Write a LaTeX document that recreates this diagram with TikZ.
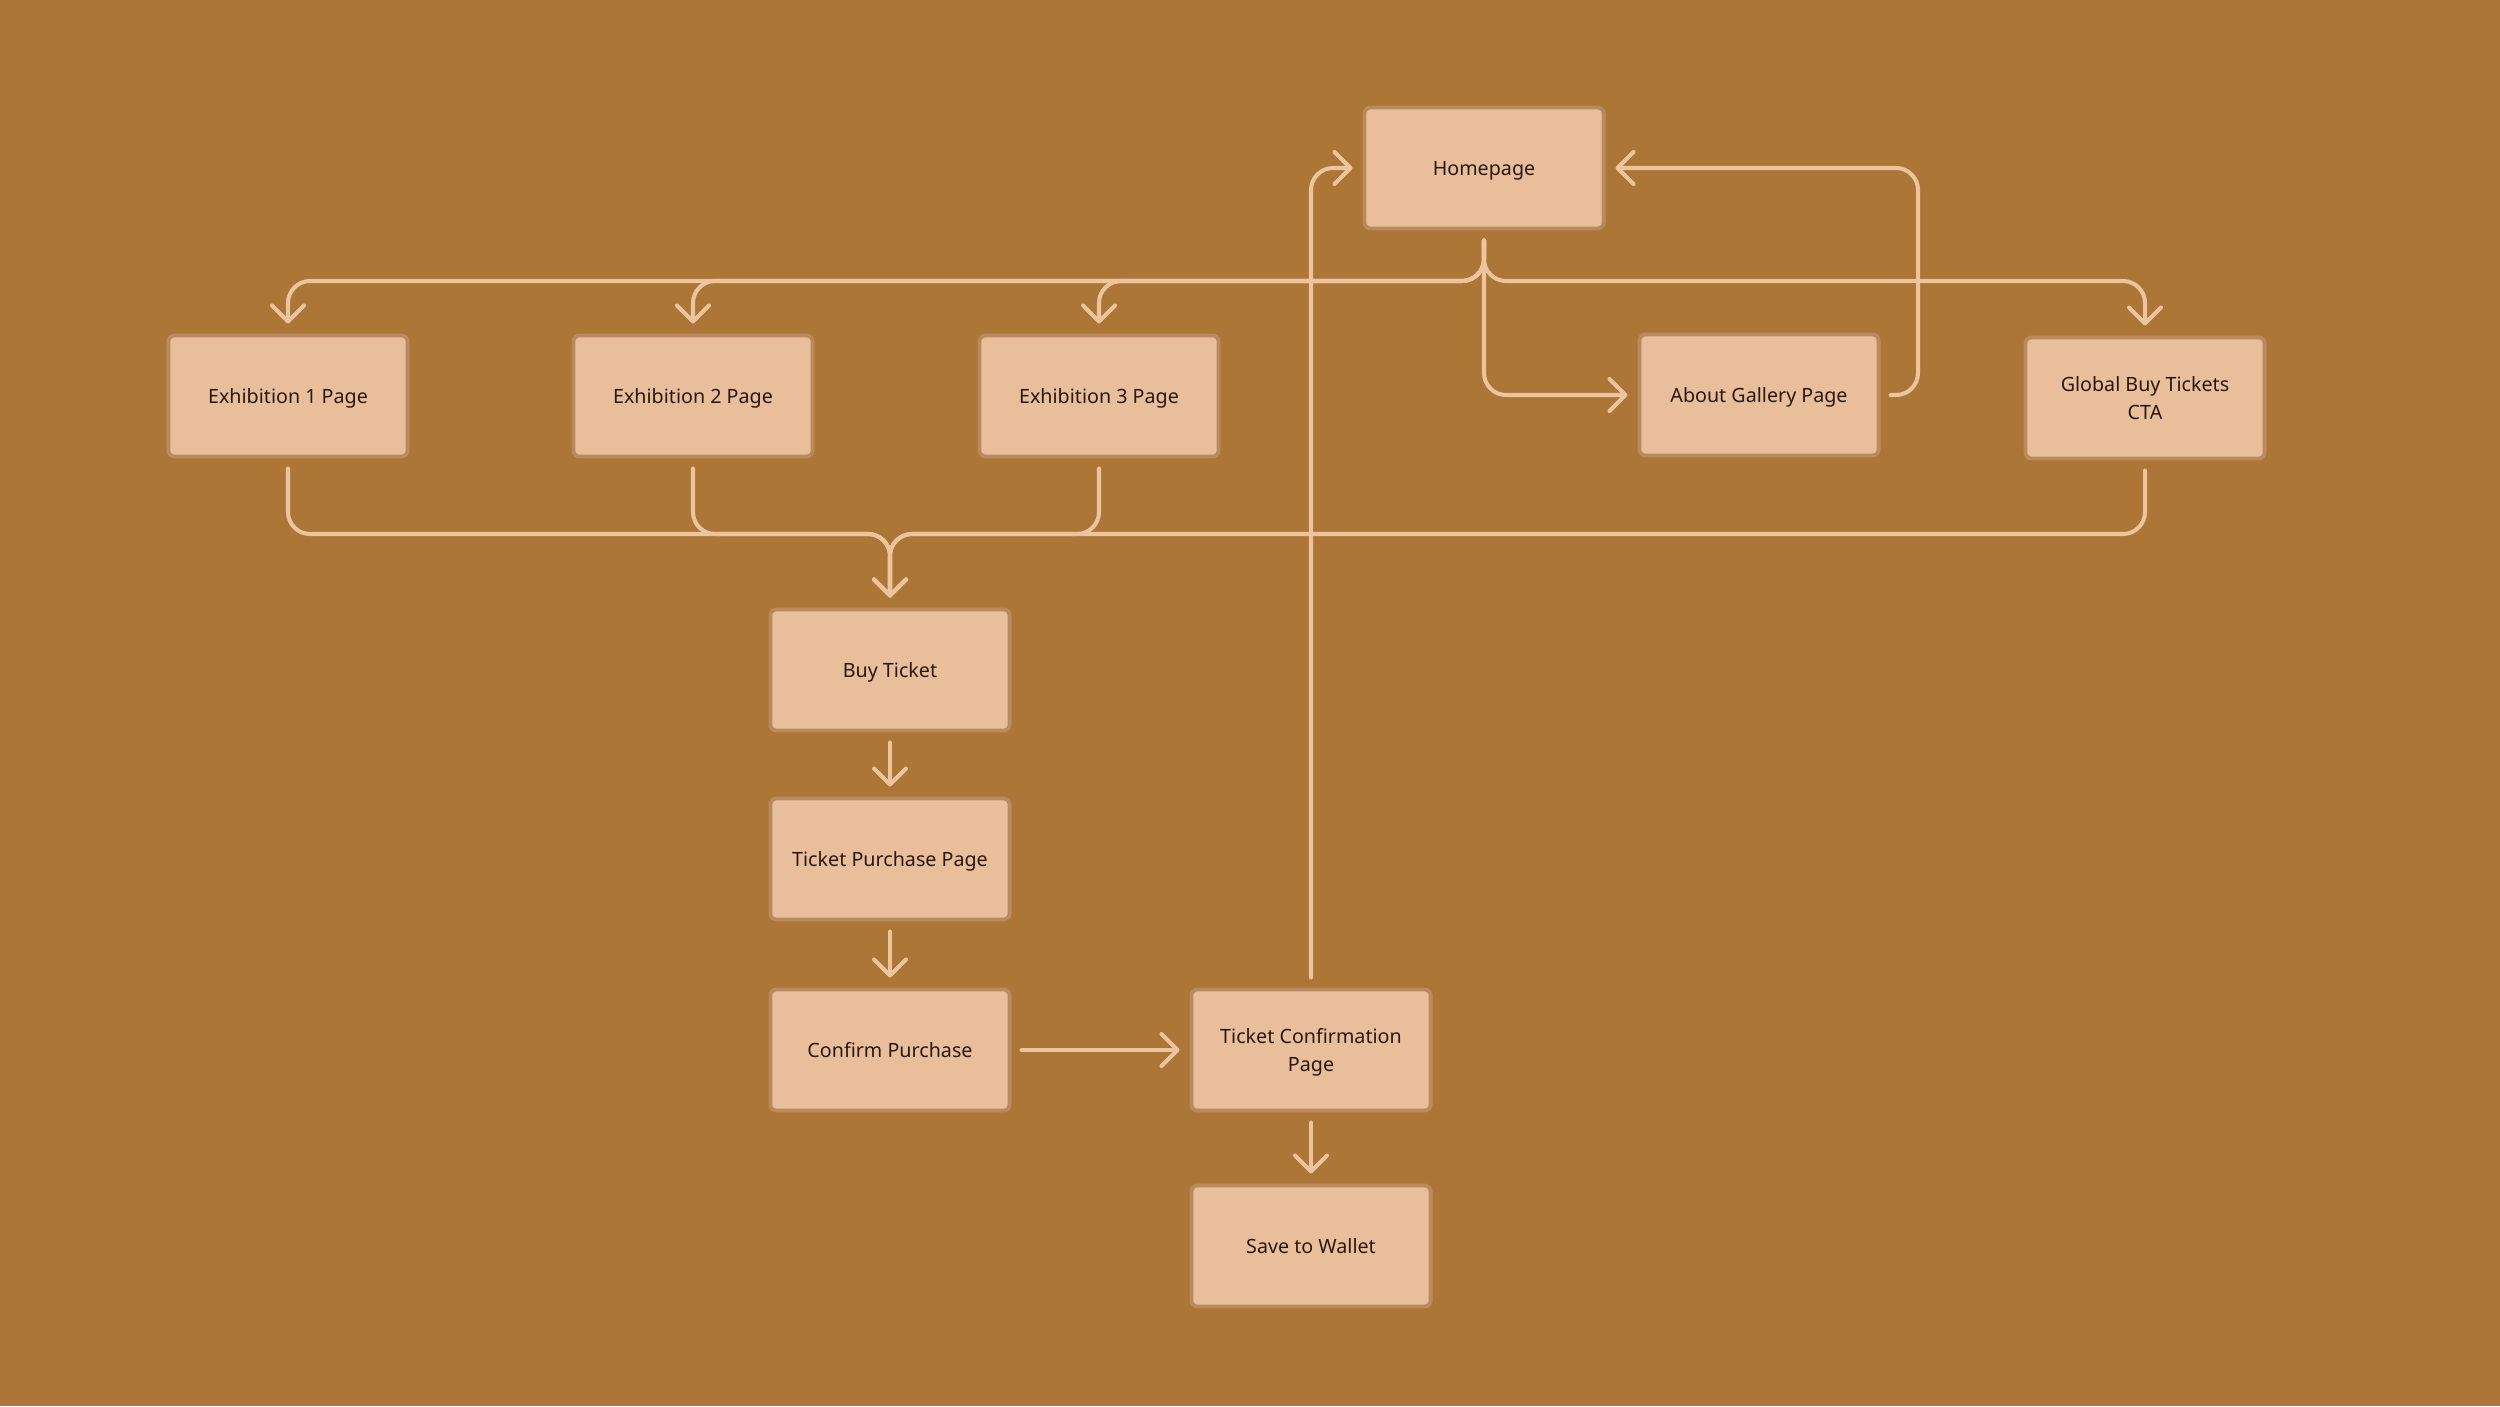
\documentclass[tikz,border=0pt]{standalone}
\usepackage{fontspec}
\setmainfont{Noto Sans}
\usetikzlibrary{arrows.meta}
\definecolor{bg}{HTML}{AB7636}
\definecolor{boxfill}{HTML}{E9BF9B}
\definecolor{boxline}{HTML}{B98A5F}
\definecolor{conncol}{HTML}{EEC49E}
\definecolor{txt}{HTML}{2A180C}
\tikzset{
  pagebox/.style={draw=boxline, line width=1.1pt, fill=boxfill, rounded corners=0.06cm,
    minimum width=2.39cm, minimum height=1.21cm, align=center, text=txt,
    font=\fontsize{5.6}{8.2}\selectfont, inner sep=0pt, text depth=0pt},
  conn/.style={draw=conncol, line width=1.15pt, line cap=round, rounded corners=0.22cm,
    shorten <=0.1cm, shorten >=0.1cm},
  arr/.style={-{Straight Barb[length=0.16cm,width=0.32cm,line cap=round,line join=round]}}
}
\begin{document}
\begin{tikzpicture}[x=0.01cm,y=-0.01cm]
\fill[bg] (0,0) rectangle (2500,1406);
\useasboundingbox (0,0) rectangle (2500,1406);

\node[pagebox] (hp) at (1484,168) {Homepage};
\node[pagebox] (ex1) at (288,396) {Exhibition 1 Page};
\node[pagebox] (ex2) at (693,396) {Exhibition 2 Page};
\node[pagebox] (ex3) at (1099,396) {Exhibition 3 Page};
\node[pagebox] (about) at (1759,395) {About Gallery Page};
\node[pagebox] (glob) at (2145,398) {Global Buy Tickets\\CTA};
\node[pagebox] (buy) at (890,670) {Buy Ticket};
\node[pagebox] (tpp) at (890,859) {Ticket Purchase Page};
\node[pagebox] (conf) at (890,1050) {Confirm Purchase};
\node[pagebox] (tcp) at (1311,1050) {Ticket Confirmation\\Page};
\node[pagebox] (save) at (1311,1246) {Save to Wallet};

\coordinate (topbus) at (0,281);
\coordinate (botbus) at (0,534);
\coordinate (rx) at (1918,0);

% Homepage to top row
\draw[conn,arr] (hp.south) -- (hp.south |- topbus) -- (ex1.north |- topbus) -- (ex1.north);
\draw[conn,arr] (hp.south) -- (hp.south |- topbus) -- (ex2.north |- topbus) -- (ex2.north);
\draw[conn,arr] (hp.south) -- (hp.south |- topbus) -- (ex3.north |- topbus) -- (ex3.north);
\draw[conn,arr] (hp.south) -- (hp.south |- topbus) -- (glob.north |- topbus) -- (glob.north);
\draw[conn,arr] (hp.south) -- (hp.south |- about.west) -- (about.west);

% About back to Homepage
\draw[conn,arr] (about.east) -- (about.east -| rx) -- (hp.east -| rx) -- (hp.east);

% Top row to Buy Ticket
\draw[conn,arr] (ex1.south) -- (ex1.south |- botbus) -- (buy.north |- botbus) -- (buy.north);
\draw[conn,arr] (ex2.south) -- (ex2.south |- botbus) -- (buy.north |- botbus) -- (buy.north);
\draw[conn,arr] (ex3.south) -- (ex3.south |- botbus) -- (buy.north |- botbus) -- (buy.north);
\draw[conn,arr] (glob.south) -- (glob.south |- botbus) -- (buy.north |- botbus) -- (buy.north);

% Purchase flow
\draw[conn,arr] (buy.south) -- (tpp.north);
\draw[conn,arr] (tpp.south) -- (conf.north);
\draw[conn,arr] (conf.east) -- (tcp.west);
\draw[conn,arr] (tcp.south) -- (save.north);

% Confirmation back to Homepage
\draw[conn,arr] (tcp.north) -- (tcp.north |- hp.west) -- (hp.west);
\end{tikzpicture}
\end{document}
